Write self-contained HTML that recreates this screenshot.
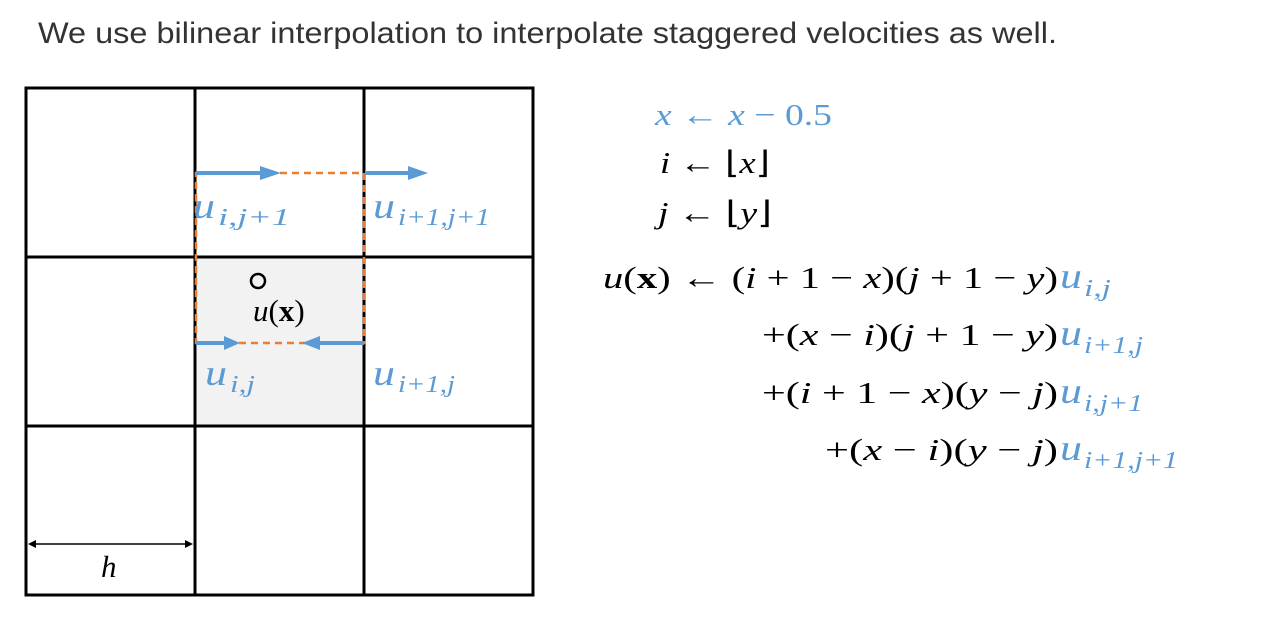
<!DOCTYPE html>
<html><head><meta charset="utf-8"><style>
html,body{margin:0;padding:0;background:#fff;}
svg{display:block;}
.m{font-family:"Liberation Serif",serif;font-size:31px;fill:#000;}
.b{fill:#5b9bd5;}
.u{font-family:"Liberation Serif",serif;font-size:36px;font-style:italic;fill:#5b9bd5;}
.s{font-family:"Liberation Serif",serif;font-size:24px;font-style:italic;fill:#5b9bd5;}
</style></head><body>
<svg width="1280" height="628" viewBox="0 0 1280 628" xmlns="http://www.w3.org/2000/svg">
<text x="38" y="43" font-family="Liberation Sans, sans-serif" font-size="30" fill="#333" textLength="1019" lengthAdjust="spacingAndGlyphs">We use bilinear interpolation to interpolate staggered velocities as well.</text>

<rect x="195" y="257" width="169" height="169" fill="#f2f2f2"/>
<g stroke="#000" stroke-width="3" fill="none">
<rect x="26" y="88" width="507" height="507"/>
<line x1="195" y1="88" x2="195" y2="595"/>
<line x1="364" y1="88" x2="364" y2="595"/>
<line x1="26" y1="257" x2="533" y2="257"/>
<line x1="26" y1="426" x2="533" y2="426"/>
</g>
<rect x="196" y="173" width="168" height="170" fill="none" stroke="#ed7d31" stroke-width="2.5" stroke-dasharray="7,5"/>
<g fill="#5b9bd5" stroke="#5b9bd5">
<line x1="196" y1="173" x2="262" y2="173" stroke-width="4"/>
<polygon points="260,166 281,173 260,180" stroke="none"/>
<line x1="365" y1="173" x2="410" y2="173" stroke-width="4"/>
<polygon points="408,166 428,173 408,180" stroke="none"/>
<line x1="196" y1="343" x2="226" y2="343" stroke-width="4"/>
<polygon points="224,336 240,343 224,350" stroke="none"/>
<line x1="364" y1="343" x2="318" y2="343" stroke-width="4"/>
<polygon points="320,336 302,343 320,350" stroke="none"/>
</g>
<circle cx="258" cy="281" r="7" fill="none" stroke="#000" stroke-width="2.5"/>
<text class="m" x="253" y="321" font-size="33"><tspan font-style="italic">u</tspan>(<tspan font-weight="bold">x</tspan>)</text>

<text class="u" x="193" y="218" textLength="22" lengthAdjust="spacingAndGlyphs">u</text>
<text class="s" x="218" y="225" textLength="72" lengthAdjust="spacingAndGlyphs">i,j+1</text>
<text class="u" x="373" y="218" textLength="22" lengthAdjust="spacingAndGlyphs">u</text>
<text class="s" x="398" y="225" textLength="92" lengthAdjust="spacingAndGlyphs">i+1,j+1</text>
<text class="u" x="205" y="385" textLength="22" lengthAdjust="spacingAndGlyphs">u</text>
<text class="s" x="230" y="392" textLength="25" lengthAdjust="spacingAndGlyphs">i,j</text>
<text class="u" x="373" y="385" textLength="22" lengthAdjust="spacingAndGlyphs">u</text>
<text class="s" x="398" y="392" textLength="57" lengthAdjust="spacingAndGlyphs">i+1,j</text>

<line x1="32" y1="544" x2="188" y2="544" stroke="#000" stroke-width="1.5"/>
<polygon points="28,544 36,540 36,548" fill="#000"/>
<polygon points="193,544 185,540 185,548" fill="#000"/>
<text class="m" x="101" y="577" font-style="italic">h</text>

<text class="m b" x="655" y="125" textLength="177" lengthAdjust="spacingAndGlyphs"><tspan font-style="italic">x</tspan> ← <tspan font-style="italic">x</tspan> − 0.5</text>
<text class="m" x="660" y="173" textLength="110" lengthAdjust="spacingAndGlyphs"><tspan font-style="italic">i</tspan> ← ⌊<tspan font-style="italic">x</tspan>⌋</text>
<text class="m" x="658" y="223" textLength="114" lengthAdjust="spacingAndGlyphs"><tspan font-style="italic">j</tspan> ← ⌊<tspan font-style="italic">y</tspan>⌋</text>

<text class="m" x="603" y="288" textLength="455" lengthAdjust="spacingAndGlyphs"><tspan font-style="italic">u</tspan>(<tspan font-weight="bold">x</tspan>) ← (<tspan font-style="italic">i</tspan> + 1 − <tspan font-style="italic">x</tspan>)(<tspan font-style="italic">j</tspan> + 1 − <tspan font-style="italic">y</tspan>)</text>
<text class="u" x="1060" y="288" textLength="22" lengthAdjust="spacingAndGlyphs">u</text>
<text class="s" x="1084" y="296" textLength="27" lengthAdjust="spacingAndGlyphs">i,j</text>

<text class="m" x="762" y="345" textLength="296" lengthAdjust="spacingAndGlyphs">+(<tspan font-style="italic">x</tspan> − <tspan font-style="italic">i</tspan>)(<tspan font-style="italic">j</tspan> + 1 − <tspan font-style="italic">y</tspan>)</text>
<text class="u" x="1060" y="345" textLength="22" lengthAdjust="spacingAndGlyphs">u</text>
<text class="s" x="1084" y="353" textLength="59" lengthAdjust="spacingAndGlyphs">i+1,j</text>

<text class="m" x="762" y="403" textLength="296" lengthAdjust="spacingAndGlyphs">+(<tspan font-style="italic">i</tspan> + 1 − <tspan font-style="italic">x</tspan>)(<tspan font-style="italic">y</tspan> − <tspan font-style="italic">j</tspan>)</text>
<text class="u" x="1060" y="403" textLength="22" lengthAdjust="spacingAndGlyphs">u</text>
<text class="s" x="1084" y="411" textLength="59" lengthAdjust="spacingAndGlyphs">i,j+1</text>

<text class="m" x="825" y="460" textLength="233" lengthAdjust="spacingAndGlyphs">+(<tspan font-style="italic">x</tspan> − <tspan font-style="italic">i</tspan>)(<tspan font-style="italic">y</tspan> − <tspan font-style="italic">j</tspan>)</text>
<text class="u" x="1060" y="460" textLength="22" lengthAdjust="spacingAndGlyphs">u</text>
<text class="s" x="1084" y="468" textLength="94" lengthAdjust="spacingAndGlyphs">i+1,j+1</text>
</svg>
</body></html>
